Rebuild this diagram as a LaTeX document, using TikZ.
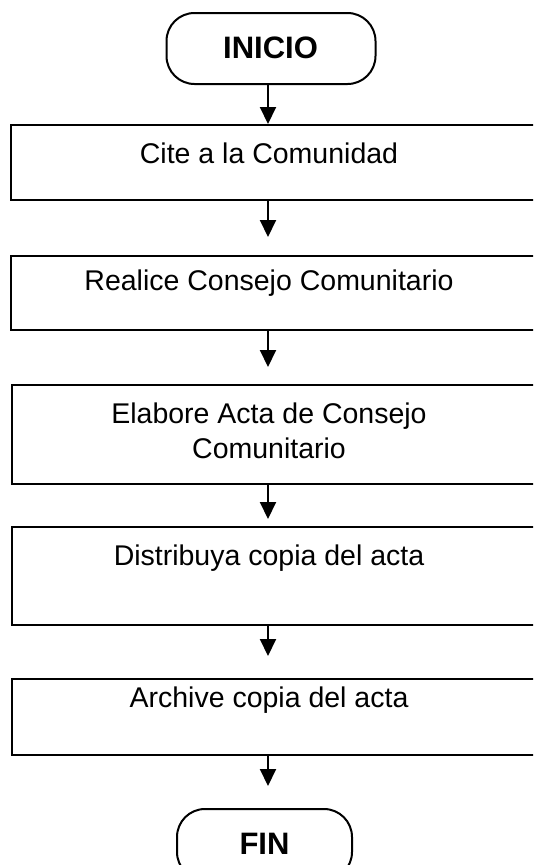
\documentclass[tikz,border=0pt]{standalone}
\usepackage{fontspec}
\setmainfont{Liberation Sans}
\usetikzlibrary{arrows.meta}
\begin{document}
\begin{tikzpicture}[x=1pt,y=-1pt,
  stepbox/.style={draw,line width=2pt,rectangle,anchor=north west,minimum width=560pt,inner sep=0pt},
  term/.style={draw,line width=2pt,rectangle,rounded corners=28pt,inner sep=0pt,anchor=north west},
  txt/.style={font=\fontsize{28.5}{35}\selectfont,align=center,inner sep=0pt},
  ttxt/.style={font=\fontsize{31}{36}\selectfont\bfseries,inner sep=0pt},
  arr/.style={line width=2pt,-{Triangle[length=17pt,width=16pt]}}]
\useasboundingbox (0,0) rectangle (533,865);
\clip (0,0) rectangle (533,865);
\coordinate (ax) at (268,0);
\node[term,minimum width=209pt,minimum height=71pt] (inicio) at (165.5,12) {};
\node[ttxt] (tinicio) at (270.5,47.5) {INICIO};
\node[stepbox,minimum height=75pt] (b1) at (9.5,124) {};
\node[txt] (t1) at (269,153) {Cite a la Comunidad};
\node[stepbox,minimum height=74pt] (b2) at (9.5,255) {};
\node[txt] (t2) at (269,283) {Realice Consejo Comunitario};
\node[stepbox,minimum height=99pt] (b3) at (10.5,384) {};
\node[txt] (t3) at (269,430.5) {Elabore Acta de Consejo\\Comunitario};
\node[stepbox,minimum height=98pt] (b4) at (10.5,526) {};
\node[txt] (t4) at (269,558) {Distribuya copia del acta};
\node[stepbox,minimum height=76pt] (b5) at (10.5,678) {};
\node[txt] (t5) at (269,700) {Archive copia del acta};
\node[term,minimum width=175pt,minimum height=71pt] (fin) at (176,808) {};
\node[ttxt] (tfin) at (264.5,843.5) {FIN};
\draw[arr] (inicio.south -| ax) -- (b1.north -| ax);
\draw[arr,shorten >=18pt] (b1.south -| ax) -- (b2.north -| ax);
\draw[arr,shorten >=17pt] (b2.south -| ax) -- (b3.north -| ax);
\draw[arr,shorten >=7pt] (b3.south -| ax) -- (b4.north -| ax);
\draw[arr,shorten >=22pt] (b4.south -| ax) -- (b5.north -| ax);
\draw[arr,shorten >=22pt] (b5.south -| ax) -- (fin.north -| ax);
\end{tikzpicture}
\end{document}
